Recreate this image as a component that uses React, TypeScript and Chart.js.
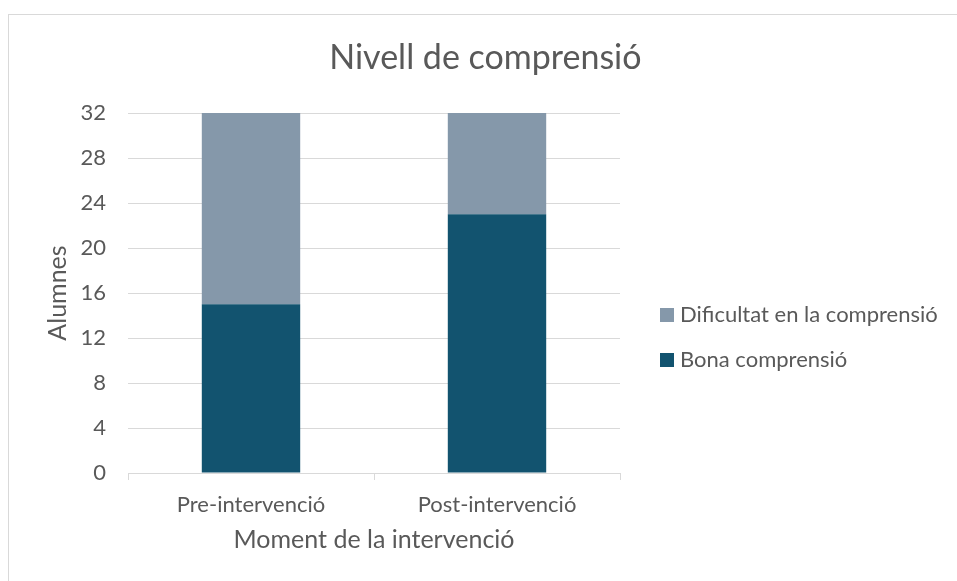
import { useEffect, useRef } from 'react';
import { Chart, registerables } from 'chart.js';

Chart.register(...registerables);

const categories = ['Pre-intervenció', 'Post-intervenció'];
const bonaComprensio = [15, 23];
const dificultatComprensio = [17, 9];
const yTickValues = [0, 4, 8, 12, 16, 20, 24, 28, 32];
const seriesLabels = ['Bona comprensió', 'Dificultat en la comprensió'];
const seriesColors = ['#12536F', '#8598AA'];
const titleText = 'Nivell de comprensió';
const xTitleText = 'Moment de la intervenció';
const yTitleText = 'Alumnes';

const FONT = 'Lato, "Open Sans", sans-serif';
const TEXT = '#595959';
const GRID = '#d9d9d9';

export default function App() {
  const ref = useRef<HTMLCanvasElement>(null);

  useEffect(() => {
    const canvas = ref.current;
    if (!canvas) return;
    const LEGEND_SIZE = 22;
    const m = document.createElement('canvas').getContext('2d')!;
    m.font = `${LEGEND_SIZE}px ${FONT}`;
    const tw = Math.max(...seriesLabels.map((t) => m.measureText(t).width));
    const P = 23;

    const chart = new Chart(canvas, {
      type: 'bar',
      data: {
        labels: categories,
        datasets: [
          { label: seriesLabels[0], data: bonaComprensio, backgroundColor: seriesColors[0], borderWidth: 0 },
          { label: seriesLabels[1], data: dificultatComprensio, backgroundColor: seriesColors[1], borderWidth: 0 },
        ],
      },
      options: {
        responsive: false,
        animation: false,
        color: TEXT,
        layout: { padding: { left: 0, top: 0, bottom: 0, right: 267 - tw } },
        datasets: { bar: { categoryPercentage: 0.4, barPercentage: 1 } },
        plugins: {
          tooltip: { enabled: false },
          title: {
            display: true,
            text: titleText,
            color: TEXT,
            font: { family: FONT, size: 34, weight: 'normal' },
            padding: { top: 30, bottom: 34.2 },
          },
          legend: {
            position: 'right',
            align: 'start',
            fullSize: true,
            reverse: true,
            maxWidth: 500,
            title: {
              display: true,
              text: ' ',
              font: { size: 10 },
              padding: { top: 261, bottom: 0 },
            },
            labels: {
              usePointStyle: true,
              pointStyle: 'rect',
              boxWidth: 4,
              boxHeight: 14,
              padding: P,
              color: TEXT,
              font: { family: FONT, size: LEGEND_SIZE },
            },
          },
        },
        scales: {
          x: {
            stacked: true,
            grid: {
              display: true,
              drawOnChartArea: false,
              drawTicks: true,
              tickLength: 7,
              color: GRID,
              offset: true,
            },
            border: { display: true, color: GRID },
            ticks: { padding: 11.8, color: TEXT, font: { family: FONT, size: 22 } },
            title: {
              display: true,
              text: xTitleText,
              color: TEXT,
              font: { family: FONT, size: 25 },
              padding: { top: 0, bottom: 26 },
            },
            afterFit: (s: any) => {
              s.height = 108;
            },
          },
          y: {
            stacked: true,
            min: 0,
            max: 32,
            afterBuildTicks: (s: any) => {
              s.ticks = yTickValues.map((v) => ({ value: v }));
            },
            grid: { color: GRID, drawTicks: false },
            border: { display: false },
            ticks: { padding: 22, color: TEXT, font: { family: FONT, size: 22 } },
            title: {
              display: true,
              text: yTitleText,
              color: TEXT,
              font: { family: FONT, size: 25 },
              padding: { top: 19.5, bottom: 0 },
            },
            afterFit: (s: any) => {
              s.width = 105;
            },
          },
          gap: {
            type: 'linear',
            position: 'right',
            display: true,
            grid: { display: false },
            border: { display: false },
            ticks: { display: false },
            afterFit: (s: any) => {
              s.width = 45 - P;
            },
          },
        },
      },
    } as any);
    return () => chart.destroy();
  }, []);

  return (
    <div
      style={{
        position: 'fixed',
        left: 0,
        top: 0,
        width: 957,
        height: 581,
        overflow: 'hidden',
        background: '#ffffff',
      }}
    >
      <div
        style={{
          position: 'absolute',
          left: 8,
          top: 14,
          width: 1200,
          height: 1200,
          border: `1px solid ${GRID}`,
        }}
      />
      <canvas
        ref={ref}
        width={934}
        height={573}
        style={{ position: 'absolute', left: 23, top: 8, width: 934, height: 573 }}
      />
    </div>
  );
}
